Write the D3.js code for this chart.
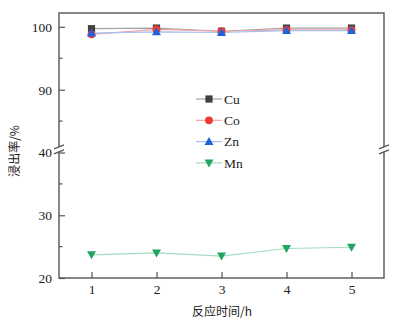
<!DOCTYPE html>
<html>
<head>
<meta charset="utf-8">
<script src="https://cdn.jsdelivr.net/npm/d3@7"></script>
<style>
  html, body { margin: 0; padding: 0; background: #fff; }
  svg { display: block; }
</style>
</head>
<body>
<svg id="chart" width="406" height="324"></svg>
<script>
// Leaching rate vs. reaction time
const hours = [1, 2, 3, 4, 5];
const cu = [99.7, 99.8, 99.3, 99.8, 99.8];
const co = [98.8, 99.6, 99.3, 99.5, 99.5];
const zn = [99.0, 99.2, 99.1, 99.4, 99.4];
const mn = [23.7, 24.0, 23.5, 24.7, 24.9];
const yMajorTicks = [20, 30, 40, 90, 100];
const yMinorTicks = [25, 35, 85, 95];
const seriesNames = ["Cu", "Co", "Zn", "Mn"];

const series = [
  { name: seriesNames[0], values: cu, mark: "#3f3f3f", line: "#a3a3a3", shape: d3.symbolSquare },
  { name: seriesNames[1], values: co, mark: "#ee3b36", line: "#f5a3a3", shape: d3.symbolCircle },
  { name: seriesNames[2], values: zn, mark: "#2063d8", line: "#a3c0ef", shape: "up" },
  { name: seriesNames[3], values: mn, mark: "#22a463", line: "#a6dcc2", shape: "down" }
];

const svg = d3.select("#chart");
const L = 59, R = 384, T = 13, B = 278;
const serif = "'Liberation Serif', 'DejaVu Serif', serif";
const cjk = "'Noto Sans CJK SC', sans-serif";

const x = d3.scaleLinear().domain([0.5, 5.5]).range([L, R]);
// broken y axis: 20–40.5 below the break, 80.5–102.2 above it
const y = d3.scaleLinear()
  .domain([20, 40.5, 80.5, 102.2])
  .range([B, 149.4, 149.4, T]);

const axisColor = "#555";

// frame
svg.append("rect")
  .attr("x", L).attr("y", T).attr("width", R - L).attr("height", B - T)
  .attr("fill", "none").attr("stroke", axisColor).attr("stroke-width", 1.4);

// y ticks (inward)
const yAxis = d3.axisLeft(y).tickValues(yMajorTicks).tickSize(-6).tickPadding(7)
  .tickFormat(d3.format("d"));
const gy = svg.append("g").attr("transform", `translate(${L},0)`).call(yAxis);
gy.select(".domain").remove();
gy.selectAll(".tick line").attr("stroke", axisColor).attr("stroke-width", 1.2);
gy.selectAll(".tick text").attr("font-family", serif).attr("font-size", 13.5).attr("fill", "#222");
svg.append("g").selectAll("line").data(yMinorTicks).join("line")
  .attr("x1", L).attr("x2", L + 3.5)
  .attr("y1", d => y(d)).attr("y2", d => y(d))
  .attr("stroke", axisColor).attr("stroke-width", 1.2);

// x ticks (inward)
const xAxis = d3.axisBottom(x).tickValues(hours).tickSize(-6).tickPadding(6)
  .tickFormat(d3.format("d"));
const gx = svg.append("g").attr("transform", `translate(0,${B})`).call(xAxis);
gx.select(".domain").remove();
gx.selectAll(".tick line").attr("stroke", axisColor).attr("stroke-width", 1.2);
gx.selectAll(".tick text").attr("font-family", serif).attr("font-size", 13.5).attr("fill", "#222");

// axis break marks
[L, R].forEach(ax => {
  const yb = y(40.5);
  svg.append("rect").attr("x", ax - 2).attr("y", yb - 2.5).attr("width", 4).attr("height", 5).attr("fill", "#fff");
  [-2.5, 2.5].forEach(off => {
    svg.append("line")
      .attr("x1", ax - 5).attr("y1", yb + off + 2)
      .attr("x2", ax + 5).attr("y2", yb + off - 2)
      .attr("stroke", axisColor).attr("stroke-width", 1.2);
  });
});

// marker drawing
function marker(g, shape, color, cx, cy) {
  if (shape === "up" || shape === "down") {
    const s = shape === "up" ? -1 : 1;
    g.append("path")
      .attr("d", `M${cx - 4.5},${cy - s * 3.5}L${cx + 4.5},${cy - s * 3.5}L${cx},${cy + s * 4.5}Z`)
      .attr("fill", color);
  } else {
    g.append("path")
      .attr("d", d3.symbol().type(shape).size(shape === d3.symbolSquare ? 52 : 48)())
      .attr("transform", `translate(${cx},${cy})`)
      .attr("fill", color);
  }
}

const line = d3.line().x((d, i) => x(hours[i])).y(d => y(d));
series.forEach(s => {
  svg.append("path").datum(s.values).attr("d", line)
    .attr("fill", "none").attr("stroke", s.line).attr("stroke-width", 1.2);
});
series.forEach(s => {
  const g = svg.append("g");
  s.values.forEach((v, i) => marker(g, s.shape, s.mark, x(hours[i]), y(v)));
});

// legend
const legend = svg.append("g");
series.forEach((s, i) => {
  const ly = 99 + i * 21.3;
  legend.append("line").attr("x1", 196).attr("x2", 222).attr("y1", ly).attr("y2", ly)
    .attr("stroke", s.line).attr("stroke-width", 1.2);
  marker(legend, s.shape, s.mark, 209, ly);
  legend.append("text").attr("x", 224).attr("y", ly).attr("dy", "0.35em")
    .attr("font-family", serif).attr("font-size", 13.5).attr("fill", "#222").text(s.name);
});

// axis titles
svg.append("text").attr("x", 222).attr("y", 316)
  .attr("text-anchor", "middle").attr("font-family", cjk).attr("font-size", 12).attr("fill", "#222")
  .text("反应时间/h");
svg.append("text").attr("transform", `translate(19,151) rotate(-90)`)
  .attr("text-anchor", "middle").attr("font-family", cjk).attr("font-size", 12).attr("fill", "#222")
  .text("浸出率/%");
</script>
</body>
</html>
